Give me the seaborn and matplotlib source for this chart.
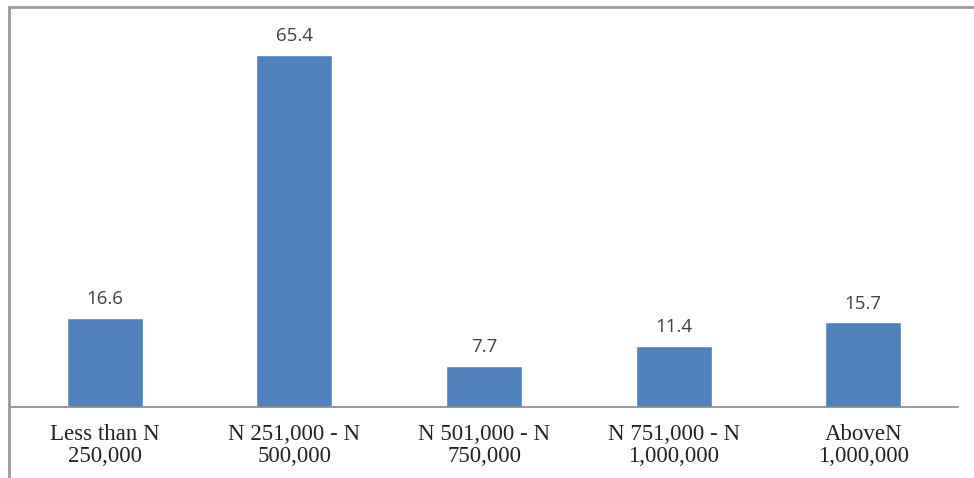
import matplotlib
matplotlib.use("Agg")
import matplotlib.pyplot as plt
import seaborn as sns
import pandas as pd
from matplotlib.patches import Rectangle

categories = ["Less than N\n250,000", "N 251,000 - N\n500,000", "N 501,000 - N\n750,000",
              "N 751,000 - N\n1,000,000", "AboveN\n1,000,000"]
values = [16.6, 65.4, 7.7, 11.4, 15.7]

df = pd.DataFrame({"cat": categories, "val": values})

sns.set_theme(style="white")
W, H = 974, 478
fig = plt.figure(figsize=(W / 100, H / 100), dpi=100)
ax = fig.add_axes([10 / W, (H - 407) / H, 948 / W, (407 - 30) / H])

sns.barplot(data=df, x="cat", y="val", color="#4F81BD", width=0.40, saturation=1, ax=ax)
ax.set_ylim(0, 70)
ax.set_xlim(-0.5, 4.5)
ax.set_xlabel("")
ax.set_ylabel("")
ax.set_yticks([])
for s in ["top", "right", "left"]:
    ax.spines[s].set_visible(False)
ax.spines["bottom"].set_color("#888888")
ax.spines["bottom"].set_linewidth(1.2)
ax.tick_params(axis="x", length=0, pad=12)
for lbl in ax.get_xticklabels():
    lbl.set_fontfamily("Liberation Serif")
    lbl.set_fontsize(16.5)
    lbl.set_color("#222222")
    lbl.set_linespacing(1.1)

for i, v in enumerate(values):
    ax.annotate(f"{v}", (i, v), xytext=(0, 7), textcoords="offset points",
                ha="center", va="bottom", fontsize=13.5, color="#404040",
                family="Open Sans")

fig.patches.append(Rectangle((9 / W, -0.1), 1.2, (H - 7) / H + 0.1,
                             transform=fig.transFigure, fill=False,
                             edgecolor="#9a9a9a", linewidth=2))
fig.savefig("out.png", dpi=100)
